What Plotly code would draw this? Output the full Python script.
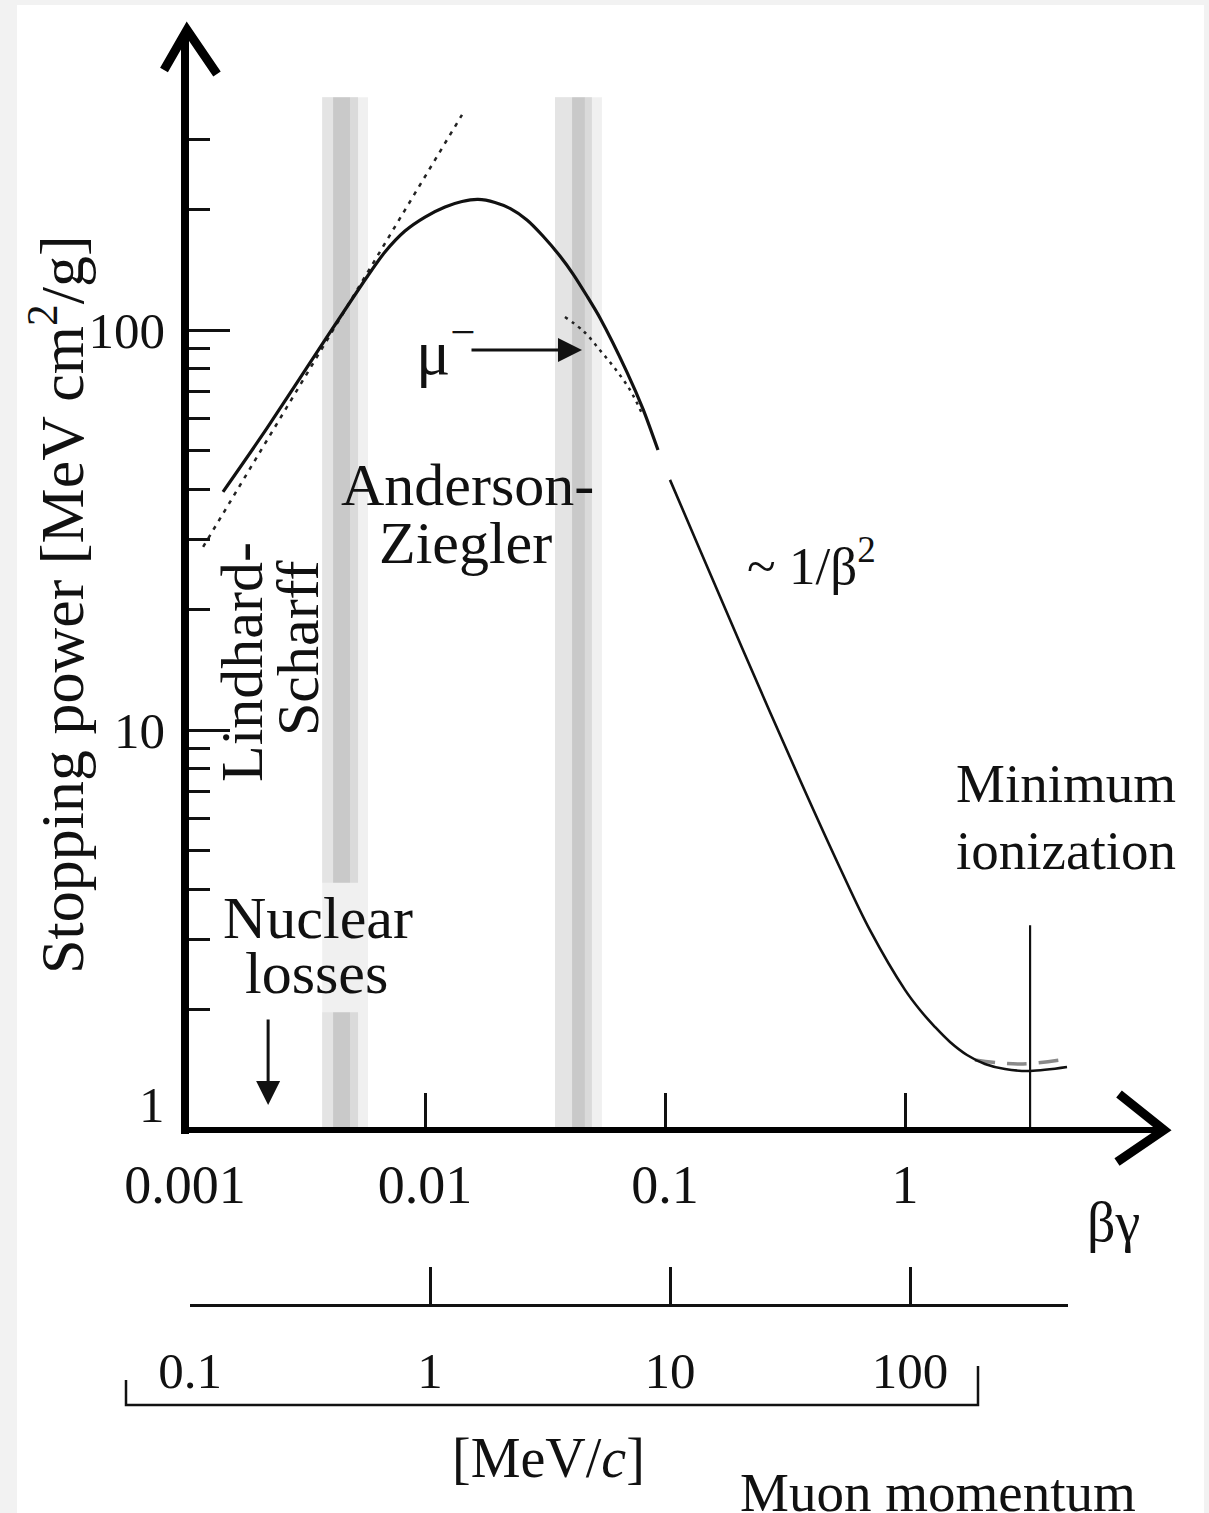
import math
import plotly.graph_objects as go

W, H = 1209, 1513
FONT = "Liberation Serif, Times New Roman, serif"
TXT = "#111111"

# ---------------- data ----------------
# Anderson-Ziegler / low-energy part of the stopping power curve
az_bg = [0.00144, 0.00220, 0.00376, 0.00573, 0.00681, 0.00825, 0.0100, 0.01212,
         0.01426, 0.01663, 0.01957, 0.0226, 0.0266, 0.0310, 0.0365, 0.0414,
         0.0473, 0.0536, 0.0694, 0.0810, 0.0935]
az_S = [39.4, 56.9, 92.8, 135.7, 156.7, 176.8, 191.6, 203.0,
        209.5, 212.0, 208.4, 201.3, 188.4, 171.8, 153.1, 138.0,
        121.6, 107.2, 78.5, 63.4, 50.1]

# Bethe part (~1/beta^2) down to minimum ionization
bethe_bg = [0.1049, 0.1399, 0.2113, 0.3652, 0.5361, 0.7147, 1.0, 1.155,
            1.334, 1.540, 1.813, 2.154, 2.610, 3.318, 4.732]
bethe_S = [42.2, 28.2, 15.85, 7.50, 4.52, 3.16, 2.24, 1.995,
           1.809, 1.660, 1.540, 1.462, 1.420, 1.405, 1.437]

# Lindhard-Scharff straight line (end points)
lindhard_bg = [0.00119, 0.01426]
lindhard_S = [28.7, 345.0]

# mu- (Barkas effect) dotted curve
mu_bg = [0.0383, 0.0460, 0.0536, 0.0620, 0.0715, 0.0800]
mu_S = [107.8, 99.0, 89.0, 80.0, 70.8, 62.0]

# dashed gray curve near minimum ionization
rad_bg = [1.957, 3.013, 4.732]
rad_S = [1.496, 1.462, 1.505]

# minimum ionization marker
min_ion_bg = 3.32
min_ion_top = 3.25

# transition bands (beta*gamma strip edges)
band1_edges = [0.00373, 0.00414, 0.00487, 0.00526, 0.00579]
band2_edges = [0.0348, 0.0410, 0.0464, 0.0496, 0.0546]
band_top = 382.0
band1_gap = [1.97, 4.15]   # hidden behind the "Nuclear losses" label

# annotation arrows
mu_arrow_tail = (0.0154, 89.1)
mu_arrow_tip = (0.0451, 89.1)
nuc_arrow_tail = (0.00222, 1.905)
nuc_arrow_tip = (0.00222, 1.155)

# axis ticks
x_ticks = [0.001, 0.01, 0.1, 1]
x_ticktext = ["0.001", "0.01", "0.1", "1"]
y_ticks = [1, 10, 100]
y_ticktext = ["", "10", "100"]
y_minor = [2, 3, 4, 5, 6, 7, 8, 9, 20, 30, 40, 50, 60, 70, 80, 90, 200, 300]
p_ticks = [0.1, 1, 10, 100]
p_ticktext = ["0.1", "1", "10", "100"]


def fx(px):
    return px / W


def fy(py):
    return 1 - py / H


fig = go.Figure()


def strip(x0, x1, y0, y1, color):
    fig.add_trace(go.Scatter(
        x=[x0, x1, x1, x0, x0], y=[y0, y0, y1, y1, y0],
        mode="lines", fill="toself", fillcolor=color,
        line=dict(width=0, color=color), hoverinfo="skip"))


strip_colors = ["#e4e4e4", "#c9c9c9", "#dadada"]
for edges, gaps in ((band1_edges, band1_gap), (band2_edges, None)):
    strip(edges[0], edges[4], 1.0, band_top, "#f0f0f0")
    for i, c in enumerate(strip_colors):
        if gaps:
            strip(edges[i], edges[i + 1], 1.0, gaps[0], c)
            strip(edges[i], edges[i + 1], gaps[1], band_top, c)
        else:
            strip(edges[i], edges[i + 1], 1.0, band_top, c)

# curves
fig.add_trace(go.Scatter(x=lindhard_bg, y=lindhard_S, mode="lines",
                         line=dict(color="#222", width=2.5, dash="4px,6px"),
                         hoverinfo="skip"))
fig.add_trace(go.Scatter(x=mu_bg, y=mu_S, mode="lines",
                         line=dict(color="#222", width=2.5, dash="3px,5px", shape="spline"),
                         hoverinfo="skip"))
fig.add_trace(go.Scatter(x=rad_bg, y=rad_S, mode="lines",
                         line=dict(color="#8a8a8a", width=3.5, dash="20px,12px", shape="spline"),
                         hoverinfo="skip"))
fig.add_trace(go.Scatter(x=az_bg, y=az_S, mode="lines",
                         line=dict(color="#111", width=3.2, shape="spline", smoothing=0.7),
                         hoverinfo="skip"))
fig.add_trace(go.Scatter(x=bethe_bg, y=bethe_S, mode="lines",
                         line=dict(color="#111", width=2.6, shape="spline", smoothing=1.0),
                         hoverinfo="skip"))
fig.add_trace(go.Scatter(x=[min_ion_bg, min_ion_bg], y=[1.0, min_ion_top], mode="lines",
                         line=dict(color="#111", width=2.2), hoverinfo="skip"))
# carrier for the momentum axis
fig.add_trace(go.Scatter(x=[p_ticks[0], p_ticks[-1]], y=[1, 1], xaxis="x2", yaxis="y",
                         mode="lines", line=dict(width=0), hoverinfo="skip"))

# ---------------- annotations ----------------
ann = []


def label(text, px, py, size, angle=0, xanchor="center", yanchor="middle"):
    ann.append(dict(text=text, x=fx(px), y=fy(py), xref="paper", yref="paper",
                    showarrow=False, textangle=angle, xanchor=xanchor, yanchor=yanchor,
                    font=dict(family=FONT, size=size, color=TXT)))


label("Stopping power [MeV cm<sup>2</sup>/g]", 57, 605, 62, angle=-90)
label("1", 152, 1105, 51)
label("Lindhard-", 242, 662, 60, angle=-90)
label("Scharff", 298, 648, 60, angle=-90)
label("Anderson-", 467, 485, 60)
label("Ziegler", 465, 543, 60)
label("μ<sup>−</sup>", 414, 348, 64, xanchor="left")
label("~ 1/β<sup>2</sup>", 811, 562, 53)
label("Minimum", 1066, 783, 55)
label("ionization", 1066, 850, 55)
label("Nuclear", 318, 918, 60)
label("losses", 316, 973, 60)
label("βγ", 1113, 1222, 56)
label("[MeV/<i>c</i>]", 548, 1458, 56)
label("Muon momentum", 938, 1492, 55)

for tail, tip in ((mu_arrow_tail, mu_arrow_tip), (nuc_arrow_tail, nuc_arrow_tip)):
    ann.append(dict(text="", x=math.log10(tip[0]), y=math.log10(tip[1]),
                    ax=math.log10(tail[0]), ay=math.log10(tail[1]),
                    xref="x", yref="y", axref="x", ayref="y",
                    showarrow=True, arrowhead=2, arrowsize=1.6, arrowwidth=3,
                    arrowcolor="#111", standoff=0))

# ---------------- shapes (frame, axes lines, arrowheads, bracket) ----------------
def path(points):
    return "M " + " L ".join(f"{fx(a):.5f},{fy(b):.5f}" for a, b in points)


shapes = [
    dict(type="rect", xref="paper", yref="paper", x0=fx(17), x1=fx(1204), y0=0, y1=fy(5),
         fillcolor="white", line=dict(width=0), layer="below"),
    # y axis line and arrow
    dict(type="line", xref="paper", yref="paper", x0=fx(185), x1=fx(185), y0=fy(1134), y1=fy(34),
         line=dict(color="black", width=8)),
    dict(type="path", xref="paper", yref="paper", path=path([(164, 70), (187, 30), (217, 74)]),
         line=dict(color="black", width=9)),
    # x axis line and arrow
    dict(type="line", xref="paper", yref="paper", x0=fx(181), x1=fx(1162), y0=fy(1130), y1=fy(1130),
         line=dict(color="black", width=6)),
    dict(type="path", xref="paper", yref="paper", path=path([(1119, 1094), (1164, 1130), (1117, 1162)]),
         line=dict(color="black", width=9)),
    # lower momentum bracket
    dict(type="path", xref="paper", yref="paper",
         path=path([(126, 1380), (126, 1405), (978, 1405), (978, 1366)]),
         line=dict(color="#111", width=2.5)),
]

axis_font = dict(family=FONT, size=51, color=TXT)
xaxis_font = dict(family=FONT, size=54, color=TXT)

fig.update_layout(
    width=W, height=H, margin=dict(l=0, r=0, t=0, b=0, pad=0, autoexpand=False),
    paper_bgcolor="#f2f2f2", plot_bgcolor="rgba(0,0,0,0)",
    showlegend=False,
    xaxis=dict(type="log", range=[-3, -3 + (1167 - 185) / 240], domain=[fx(185), fx(1167)],
               anchor="y", showline=False, showgrid=False, zeroline=False, automargin=False,
               ticks="inside", ticklen=37, tickwidth=2.5, tickcolor="#111",
               tickvals=x_ticks, ticktext=x_ticktext, tickfont=xaxis_font,
               ticklabelstandoff=18),
    yaxis=dict(type="log", range=[0, 2.75], domain=[fy(1130), fy(30)],
               anchor="x", showline=False, showgrid=False, zeroline=False, automargin=False,
               ticks="inside", ticklen=45, tickwidth=2.5, tickcolor="#111",
               tickvals=y_ticks, ticktext=y_ticktext, tickfont=axis_font,
               ticklabelstandoff=19,
               minor=dict(tickvals=y_minor, ticks="inside", ticklen=25, tickwidth=2.5,
                          tickcolor="#111", showgrid=False)),
    xaxis2=dict(type="log", range=[-1, -1 + (1068 - 190) / 240], domain=[fx(190), fx(1068)],
                anchor="free", position=fy(1305), side="bottom", automargin=False,
                showline=True, linewidth=2.5, linecolor="#111",
                showgrid=False, zeroline=False,
                ticks="inside", ticklen=37, tickwidth=2.5, tickcolor="#111",
                tickvals=p_ticks, ticktext=p_ticktext, tickfont=axis_font,
                ticklabelstandoff=20),
    shapes=shapes,
    annotations=ann,
)

fig.write_html("out.html")
